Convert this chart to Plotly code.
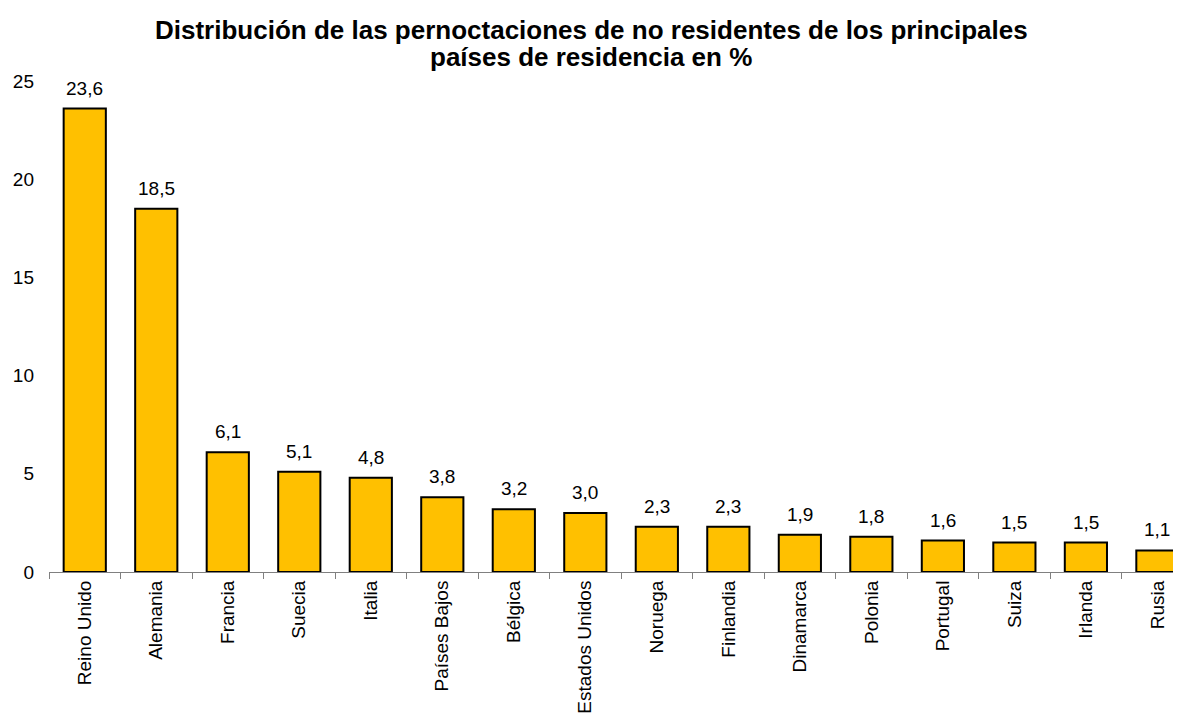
import plotly.graph_objects as go

categories = ["Reino Unido", "Alemania", "Francia", "Suecia", "Italia", "Países Bajos",
              "Bélgica", "Estados Unidos", "Noruega", "Finlandia", "Dinamarca", "Polonia",
              "Portugal", "Suiza", "Irlanda", "Rusia"]
values = [23.6, 18.5, 6.1, 5.1, 4.8, 3.8, 3.2, 3.0, 2.3, 2.3, 1.9, 1.8, 1.6, 1.5, 1.5, 1.1]
labels = [f"{v:.1f}".replace(".", ",") for v in values]
y_ticks = [0, 5, 10, 15, 20, 25]
title_lines = ["Distribución de las pernoctaciones de no residentes de los principales",
               "países de residencia en %"]

FONT = "Liberation Sans, Arial, sans-serif"

fig = go.Figure(go.Bar(
    x=categories, y=values,
    marker=dict(color="#FFC000", line=dict(color="black", width=2)),
    hoverinfo="skip",
))

for c, v, t in zip(categories, values, labels):
    fig.add_annotation(x=c, y=v, text=t, showarrow=False, yanchor="bottom",
                       yshift=8, font=dict(family=FONT, size=19, color="black"))

for line, shift in zip(title_lines, [51, 24]):
    fig.add_annotation(xref="paper", yref="paper", x=0.479, y=1, xanchor="center",
                       yanchor="middle", yshift=shift, showarrow=False,
                       text=f"<b>{line}</b>",
                       font=dict(family=FONT, size=26, color="black"))

fig.update_layout(
    width=1173, height=705,
    margin=dict(l=41, r=0, t=73, b=141),
    paper_bgcolor="white", plot_bgcolor="white",
    bargap=0.41,
    showlegend=False,
    font=dict(family=FONT, size=19, color="black"),
    xaxis=dict(
        range=[-0.5, 15.33], tickangle=-90, tickson="boundaries",
        ticks="outside", ticklen=6, tickcolor="#808080",
        showline=True, linecolor="#808080", linewidth=1,
        showgrid=False, fixedrange=True,
        tickfont=dict(family=FONT, size=19, color="black"),
    ),
    yaxis=dict(
        range=[0, 25], tickvals=y_ticks, ticktext=[str(t) for t in y_ticks],
        showgrid=False, zeroline=False, showline=False,
        ticks="", ticklabelstandoff=14,
        tickfont=dict(family=FONT, size=19, color="black"),
    ),
)

fig.write_html("out.html")
